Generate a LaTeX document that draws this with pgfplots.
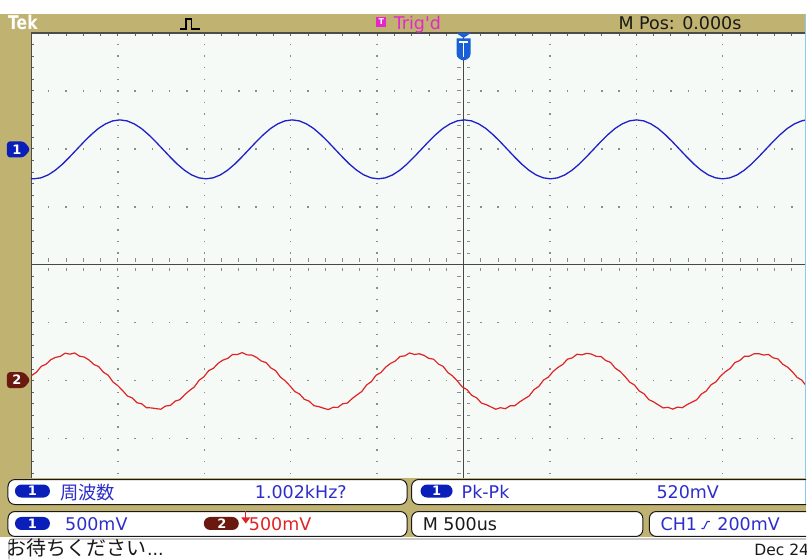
\documentclass[border=0pt]{standalone}
\usepackage{pgfplots}
\pgfplotsset{compat=1.18}
\usepackage{fontspec}
\setmainfont{DejaVu Sans}
\newfontfamily\cjk{Noto Sans CJK JP}
\definecolor{tanbg}{RGB}{192,178,112}
\definecolor{gratbg}{RGB}{245,250,247}
\definecolor{gridc}{RGB}{140,140,140}
\definecolor{ch1}{RGB}{32,32,200}
\definecolor{ch1txt}{RGB}{45,45,205}
\definecolor{ch2}{RGB}{222,36,36}
\definecolor{pillblue}{RGB}{10,30,185}
\definecolor{pillred}{RGB}{105,25,15}
\definecolor{trigmag}{RGB}{228,40,200}
\definecolor{markblue}{RGB}{25,95,215}
\definecolor{edgeblue}{RGB}{140,200,240}
\definecolor{darktxt}{RGB}{25,25,25}
\newcommand\txtsize{\fontsize{17.5}{20}\selectfont}
\begin{document}
\begin{tikzpicture}[x=1pt,y=-1pt]
  % backgrounds
  \fill[white] (0,0) rectangle (807,560);
  \fill[tanbg] (0,14) rectangle (807,538);
  \fill[gratbg] (31.5,33) rectangle (807,478);
  % dotted major grid
  \foreach \k in {1,2,3,4,6,7,8} {
    \foreach \j in {1,...,38} {
      \fill[gridc] ({31.5+86.5*\k-0.7},{33+11.6*\j-0.7}) rectangle ++(1.4,1.4);
    }
  }
  \foreach \j in {1,2,3,5,6,7} {
    \foreach \i in {1,...,44} {
      \fill[gridc] ({31.5+17.3*\i-0.7},{33+58*\j-0.7}) rectangle ++(1.4,1.4);
    }
  }
  % edge ticks
  \foreach \i in {1,...,44} {
    \draw[gridc!70!black, line width=0.9] ({31.5+17.3*\i},33) -- ++(0,3);
    \draw[gridc, line width=0.9] ({31.5+17.3*\i},258.5) -- ++(0,3.5);
    \draw[gridc, line width=0.9] ({31.5+17.3*\i},268) -- ++(0,3.5);
  }
  \foreach \j in {1,...,38} {
    \draw[gridc!70!black, line width=0.9] (31.5,{33+11.6*\j}) -- ++(3,0);
    \draw[gridc, line width=0.9] (457.5,{33+11.6*\j}) -- ++(3.5,0);
    \draw[gridc, line width=0.9] (467,{33+11.6*\j}) -- ++(3.5,0);
  }
  % center cross
  \draw[black!72, line width=1.3] (464,33) -- (464,478);
  \draw[black!72, line width=1.3] (31.5,265) -- (807,265);
  % borders
  \draw[black!70, line width=1.6] (31.5,478) -- (31.5,33) -- (807,33);

\begin{axis}[at={(0,0)}, anchor=north west, width=807pt, height=560pt,
  scale only axis, xmin=0, xmax=807, ymin=0, ymax=560, y dir=reverse,
  hide axis, clip=true]
\addplot[ch1, line width=1.3pt, no markers] coordinates {
(31.0,178.9) (33.80,179.0) (40.98,178.0) (48.17,175.1) (55.35,170.4) (62.53,164.3)
(69.72,157.1) (76.90,149.5) (84.08,141.9) (91.27,134.8) (98.45,128.6) (105.63,124.0)
(112.82,121.0) (120.00,120.0) (127.18,121.0) (134.37,124.0) (141.55,128.6) (148.73,134.8)
(155.92,141.9) (163.10,149.5) (170.28,157.1) (177.47,164.3) (184.65,170.4) (191.83,175.1)
(199.02,178.0) (206.20,179.0) (213.38,178.0) (220.57,175.1) (227.75,170.4) (234.93,164.3)
(242.12,157.1) (249.30,149.5) (256.48,141.9) (263.67,134.8) (270.85,128.6) (278.03,124.0)
(285.22,121.0) (292.40,120.0) (299.58,121.0) (306.77,124.0) (313.95,128.6) (321.13,134.8)
(328.32,141.9) (335.50,149.5) (342.68,157.1) (349.87,164.3) (357.05,170.4) (364.23,175.1)
(371.42,178.0) (378.60,179.0) (385.78,178.0) (392.97,175.1) (400.15,170.4) (407.33,164.3)
(414.52,157.1) (421.70,149.5) (428.88,141.9) (436.07,134.8) (443.25,128.6) (450.43,124.0)
(457.62,121.0) (464.80,120.0) (471.98,121.0) (479.17,124.0) (486.35,128.6) (493.53,134.8)
(500.72,141.9) (507.90,149.5) (515.08,157.1) (522.27,164.3) (529.45,170.4) (536.63,175.1)
(543.82,178.0) (551.00,179.0) (558.18,178.0) (565.37,175.1) (572.55,170.4) (579.73,164.3)
(586.92,157.1) (594.10,149.5) (601.28,141.9) (608.47,134.8) (615.65,128.6) (622.83,124.0)
(630.02,121.0) (637.20,120.0) (644.38,121.0) (651.57,124.0) (658.75,128.6) (665.93,134.8)
(673.12,141.9) (680.30,149.5) (687.48,157.1) (694.67,164.3) (701.85,170.4) (709.03,175.1)
(716.22,178.0) (723.40,179.0) (730.58,178.0) (737.77,175.1) (744.95,170.4) (752.13,164.3)
(759.32,157.1) (766.50,149.5) (773.68,141.9) (780.87,134.8) (788.05,128.6) (795.23,124.0)
(802.42,121.0) (806.0,120.2)
};
\addplot[ch2, line width=1.2pt, no markers] coordinates {
(31.69,375.8) (36.48,372.6) (41.27,366.7) (46.06,364.6) (50.84,360.1)
(55.63,357.7) (60.42,356.7) (65.21,353.5) (70.00,354.5) (74.79,353.3) (79.58,356.5)
(84.37,357.4) (89.16,360.4) (93.94,364.8) (98.73,366.9) (103.52,372.6) (108.31,375.6)
(113.10,382.3) (117.89,386.0) (122.68,390.9) (127.47,396.3) (132.26,398.3) (137.04,403.1)
(141.83,404.2) (146.62,408.1) (151.41,408.3) (156.20,409.0) (160.99,409.6) (165.78,406.4)
(170.57,405.8) (175.36,401.5) (180.14,400.0) (184.93,395.0) (189.72,390.9) (194.51,387.3)
(199.30,380.6) (204.09,377.2) (208.88,371.0) (213.67,368.6) (218.46,363.5) (223.24,360.4)
(228.03,358.7) (232.82,354.8) (237.61,354.9) (242.40,352.9) (247.19,355.2) (251.98,355.4)
(256.77,357.7) (261.56,361.4) (266.34,362.9) (271.13,368.3) (275.92,371.0) (280.71,377.5)
(285.50,381.2) (290.29,386.3) (295.08,391.9) (299.87,394.4) (304.66,399.7) (309.44,401.5)
(314.23,406.1) (319.02,407.0) (323.81,408.6) (328.60,410.0) (333.39,407.7) (338.18,407.8)
(342.97,404.2) (347.76,403.4) (352.54,398.9) (357.33,395.3) (362.12,391.9) (366.91,385.4)
(371.70,382.0) (376.49,375.6) (381.28,372.9) (386.07,367.5) (390.86,363.8) (395.64,361.4)
(400.43,356.8) (405.22,356.2) (410.01,353.3) (414.80,354.8) (419.59,354.1) (424.38,355.7)
(429.17,358.7) (433.96,359.5) (438.74,364.3) (443.53,366.7) (448.32,372.9) (453.11,376.4)
(457.90,381.5) (462.69,387.3) (467.48,390.0) (472.27,395.8) (477.06,398.1) (481.84,403.4)
(486.63,405.0) (491.42,407.3) (496.21,409.6) (501.00,408.1) (505.79,409.1) (510.58,406.2)
(515.37,406.1) (520.16,402.3) (524.94,399.2) (529.73,396.3) (534.52,390.0) (539.31,386.8)
(544.10,380.4) (548.89,377.5) (553.68,371.8) (558.47,367.8) (563.26,364.8) (568.04,359.5)
(572.83,358.2) (577.62,354.6) (582.41,355.2) (587.20,353.7) (591.99,354.4) (596.78,356.7)
(601.57,356.8) (606.36,360.9) (611.14,362.7) (615.93,368.6) (620.72,371.8) (625.51,376.7)
(630.30,382.5) (635.09,385.4) (639.88,391.4) (644.67,394.2) (649.46,400.0) (654.24,402.3)
(659.03,405.3) (663.82,408.3) (668.61,407.7) (673.40,409.5) (678.19,407.5) (682.98,408.1)
(687.77,405.0) (692.56,402.6) (697.34,400.2) (702.13,394.4) (706.92,391.4) (711.71,385.2)
(716.50,382.3) (721.29,376.4) (726.08,372.1) (730.87,368.8) (735.66,362.9) (740.44,360.9)
(745.23,356.6) (750.02,356.5) (754.81,354.1) (759.60,354.0) (764.39,355.4) (769.18,354.8)
(773.97,358.2) (778.76,359.3) (783.54,364.6) (788.33,367.5) (793.12,372.1) (797.91,377.7)
(802.70,380.6) (806.0,385.0)
};
\end{axis}

  % right window edge
  \draw[edgeblue, line width=1.5] (806.2,14) -- (806.2,505);
  % top bar texts
  \node[anchor=base west, inner sep=0, white, xscale=0.82, font=\bfseries\fontsize{19}{20}\selectfont] at (8,29.3) {Tek};
  \draw[black, line width=1.4] (180,29) -- (186,29) -- (186,19) -- (191.7,19) -- (191.7,29) -- (200,29);
  \fill[trigmag] (376.7,16.7) rectangle (386.7,27.3);
  \node[white, inner sep=0, font=\bfseries\fontsize{8}{8}\selectfont] at (381.7,22) {T};
  \node[anchor=base west, inner sep=0, trigmag, font=\txtsize] at (394,29.5) {Trig\textquotesingle d};
  \node[anchor=base west, inner sep=0, darktxt, font=\txtsize] at (619,30) {M Pos: 0.000s};
  % trigger position marker
  \fill[markblue] (456.7,33) -- (471.3,33) -- (464,38) -- cycle;
  \fill[markblue] (457,38.5) -- (471,38.5) -- (471,54) .. controls (471,58) and (467,60) .. (464,60.5) .. controls (461,60) and (457,58) .. (457,54) -- cycle;
  \draw[white, line width=1.6] (459.5,42) -- (468.5,42) (464,42) -- (464,57);
  % channel markers
  \fill[pillblue, rounded corners=3] (7,141.5) -- (24,141.5) -- (30.5,149.5) -- (24,157.5) -- (7,157.5) -- cycle;
  \node[white, inner sep=0, font=\bfseries\fontsize{13}{13}\selectfont] at (17,149.5) {1};
  \fill[pillred, rounded corners=3] (7,372.5) -- (24,372.5) -- (30.5,380.5) -- (24,388.5) -- (7,388.5) -- cycle;
  \node[white, inner sep=0, font=\bfseries\fontsize{13}{13}\selectfont] at (17,380.5) {2};
  % panels
  \fill[tanbg] (0,478) rectangle (807,538);
  \draw[darktxt, line width=1, fill=white, rounded corners=7] (8,480) rectangle (407.5,505);
  \draw[darktxt, line width=1, fill=white, rounded corners=7] (807,480) -- (412,480) -- (412,505) -- (807,505);
  \draw[darktxt, line width=1, fill=white, rounded corners=7] (8,512) rectangle (407.5,537);
  \draw[darktxt, line width=1, fill=white, rounded corners=7] (412,512) rectangle (643.5,537);
  \draw[darktxt, line width=1, fill=white, rounded corners=7] (807,512) -- (650,512) -- (650,537) -- (807,537);
  \draw[edgeblue, line width=1.5] (806.2,480.5) -- (806.2,504.5);
  % row 1
  \fill[pillblue, rounded corners=6.5] (15,485) rectangle (50,498);
  \node[white, inner sep=0, font=\bfseries\fontsize{13}{13}\selectfont] at (32.5,491.5) {1};
  \node[anchor=base west, inner sep=0, ch1txt, font=\cjk\fontsize{18.3}{20}\selectfont] at (60,500) {周波数};
  \node[anchor=base west, inner sep=0, ch1txt, font=\txtsize] at (255,499) {1.002kHz?};
  \fill[pillblue, rounded corners=6.5] (421,485) rectangle (453,498);
  \node[white, inner sep=0, font=\bfseries\fontsize{13}{13}\selectfont] at (437,491.5) {1};
  \node[anchor=base west, inner sep=0, ch1txt, font=\txtsize] at (462,499) {Pk-Pk};
  \node[anchor=base west, inner sep=0, ch1txt, font=\txtsize] at (657,499) {520mV};
  % row 2
  \fill[pillblue, rounded corners=6.5] (15,517.5) rectangle (50,530.5);
  \node[white, inner sep=0, font=\bfseries\fontsize{13}{13}\selectfont] at (32.5,524) {1};
  \node[anchor=base west, inner sep=0, ch1txt, font=\txtsize] at (65,531) {500mV};
  \fill[pillred, rounded corners=6.5] (204,517.5) rectangle (239,530.5);
  \node[white, inner sep=0, font=\bfseries\fontsize{13}{13}\selectfont] at (222,524) {2};
  \draw[ch2, line width=1.2] (246,511) -- (246,519);
  \fill[ch2] (241.5,518) -- (250.5,518) -- (246,524) -- cycle;
  \node[anchor=base west, inner sep=0, ch2, font=\txtsize] at (249,531) {500mV};
  \node[anchor=base west, inner sep=0, darktxt, font=\txtsize] at (423,531) {M 500us};
  \node[anchor=base west, inner sep=0, ch1txt, font=\txtsize] at (661,531) {CH1};
  \draw[ch1txt, line width=1.1] (702,529) -- (704.5,529) -- (708,522) -- (710.5,522);
  \node[anchor=base west, inner sep=0, ch1txt, font=\txtsize] at (718,531) {200mV};
  % row 3
  \fill[white] (0,538) rectangle (807,560);
  \draw[black!60, line width=0.9, rounded corners=3] (9,560) -- (9,539.5) -- (807,539.5);
  \node[anchor=base west, inner sep=0, darktxt, font=\cjk\fontsize{20}{20}\selectfont] at (6,556) {お待ちください};
  \node[anchor=base west, inner sep=0, darktxt, font=\txtsize] at (147,556) {...};
  \begin{scope}
    \clip (740,540) rectangle (807,560);
    \node[anchor=base west, inner sep=0, darktxt, font=\fontsize{15.5}{18}\selectfont] at (755,556) {Dec 24};
  \end{scope}
\end{tikzpicture}
\end{document}
